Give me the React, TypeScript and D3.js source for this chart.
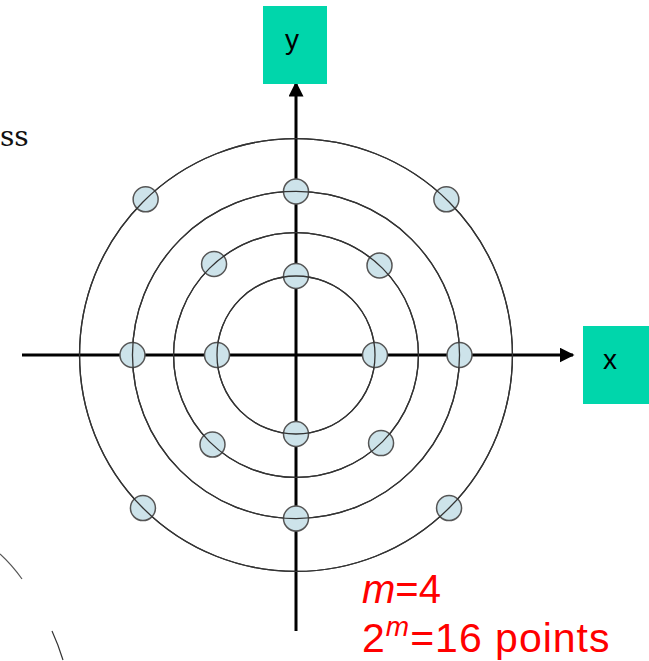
import React from "react";
import * as d3 from "d3";

const ringLevels = [1, 1.55, 2.07, 2.74];
const points: { ring: number; phase: number }[] = [
  { ring: 0, phase: 0 }, { ring: 0, phase: 90 }, { ring: 0, phase: 180 }, { ring: 0, phase: 270 },
  { ring: 1, phase: 47 }, { ring: 1, phase: 132 }, { ring: 1, phase: 227 }, { ring: 1, phase: 314 },
  { ring: 2, phase: 0 }, { ring: 2, phase: 90 }, { ring: 2, phase: 180 }, { ring: 2, phase: 270 },
  { ring: 3, phase: 46 }, { ring: 3, phase: 134 }, { ring: 3, phase: 225 }, { ring: 3, phase: 315 },
];
const axisLabels = { x: "x", y: "y" };

export default function App() {
  const W = 649, H = 661;
  const cx = 296, cy = 355;
  const r = d3.scaleLinear().domain([0, 1]).range([0, 79]);
  const px = (lvl: number, deg: number) => cx + r(lvl) * Math.cos((deg * Math.PI) / 180);
  const py = (lvl: number, deg: number) => cy - r(lvl) * Math.sin((deg * Math.PI) / 180);
  const teal = "#00d6ab";
  const font = "Liberation Sans, Arial, sans-serif";
  return (
    <div style={{ position: "absolute", left: 0, top: 0, width: W, height: H, overflow: "hidden", background: "#fff" }}>
      <svg width={W} height={H} style={{ display: "block" }}>
        <defs>
          <marker id="ah" viewBox="0 0 10 10" refX="9" refY="5" markerWidth="5" markerHeight="5" orient="auto-start-reverse" markerUnits="strokeWidth">
            <path d="M0,0 L10,5 L0,10 z" fill="#000" />
          </marker>
        </defs>
        <text x={0} y={146} fontFamily="DejaVu Serif, Liberation Serif, Times New Roman, serif" fontSize={28} fill="#111">ss</text>
        <path d="M0,554 Q12,565 22,579" fill="none" stroke="#555" strokeWidth={1.2} />
        <path d="M52,631 Q58,644 63,660" fill="none" stroke="#333" strokeWidth={1.2} />
        {ringLevels.map((lv, i) => (
          <circle key={i} cx={cx} cy={cy} r={r(lv)} fill="none" stroke="#333" strokeWidth={1.3} />
        ))}
        <line x1={22} y1={cy} x2={573} y2={cy} stroke="#000" strokeWidth={3} markerEnd="url(#ah)" />
        <line x1={cx} y1={631} x2={cx} y2={83} stroke="#000" strokeWidth={3} markerEnd="url(#ah)" />
        {points.map((p, i) => {
          const x = px(ringLevels[p.ring], p.phase);
          const y = py(ringLevels[p.ring], p.phase);
          return <circle key={i} cx={x} cy={y} r={12.5} fill="#cde3ea" stroke="#555" strokeWidth={1.5} />;
        })}
        {ringLevels.map((lv, i) => (
          <circle key={"o" + i} cx={cx} cy={cy} r={r(lv)} fill="none" stroke="#333" strokeWidth={1.3} />
        ))}
        <rect x={263} y={6} width={64} height={78} fill={teal} />
        <text x={292} y={49} textAnchor="middle" fontFamily={font} fontSize={28} fill="#000">{axisLabels.y}</text>
        <rect x={583} y={326} width={66} height={78} fill={teal} />
        <text x={610} y={369} textAnchor="middle" fontFamily={font} fontSize={28} fill="#000">{axisLabels.x}</text>
        <text x={362} y={603} fontFamily={font} fontSize={40} fill="#ff0000">
          <tspan fontStyle="italic">m</tspan>=4
        </text>
        <text x={362} y={652} fontFamily={font} fontSize={41} letterSpacing={1} fill="#ff0000">
          2<tspan fontStyle="italic" fontSize={28} dy={-16}>m</tspan><tspan dy={16}>=16 points</tspan>
        </text>
      </svg>
    </div>
  );
}
